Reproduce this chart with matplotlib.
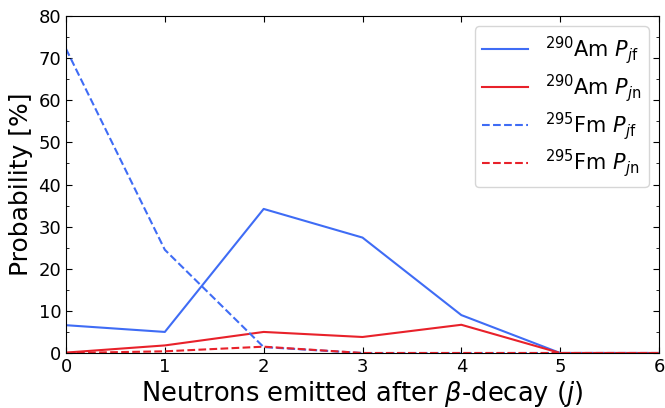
import matplotlib
matplotlib.use("Agg")
import matplotlib.pyplot as plt
from matplotlib.ticker import MultipleLocator

j = [0, 1, 2, 3, 4, 5, 6]
am_pjf = [6.6, 5.0, 34.2, 27.4, 9.0, 0.0, 0.0]
am_pjn = [0.1, 1.8, 5.0, 3.8, 6.7, 0.0, 0.0]
fm_pjf = [72.2, 24.5, 1.4, 0.0, 0.0, 0.0, 0.0]
fm_pjn = [0.0, 0.4, 1.5, 0.0, 0.0, 0.0, 0.0]

blue = '#3f6cf5'
red = '#e8212a'

fig = plt.figure(figsize=(6.65, 4.08), dpi=100)
ax = fig.add_axes([66/665, 1-353/408, (659-66)/665, (353-16)/408])

ax.plot(j, am_pjf, color=blue, lw=1.5, label=r'$^{290}$Am $P_{j\mathrm{f}}$')
ax.plot(j, am_pjn, color=red, lw=1.5, label=r'$^{290}$Am $P_{j\mathrm{n}}$')
ax.plot(j, fm_pjf, color=blue, lw=1.5, ls='--', label=r'$^{295}$Fm $P_{j\mathrm{f}}$')
ax.plot(j, fm_pjn, color=red, lw=1.5, ls='--', label=r'$^{295}$Fm $P_{j\mathrm{n}}$')

ax.set_xlim(0, 6)
ax.set_ylim(0, 80)
ax.xaxis.set_major_locator(MultipleLocator(1))
ax.yaxis.set_major_locator(MultipleLocator(10))
ax.yaxis.set_minor_locator(MultipleLocator(5))
ax.tick_params(which='both', direction='in', top=True, right=True, labelsize=13)
ax.tick_params(which='major', length=4)
ax.tick_params(which='minor', length=2.5)

ax.set_xlabel(r'Neutrons emitted after $\beta$-decay ($j$)', fontsize=18.5, labelpad=2)
ax.set_ylabel('Probability [%]', fontsize=18)

ax.legend(loc='upper right', fontsize=15, handlelength=2.2, labelspacing=0.28,
          borderpad=0.36, handletextpad=0.8)

fig.savefig('out.png', dpi=100)
